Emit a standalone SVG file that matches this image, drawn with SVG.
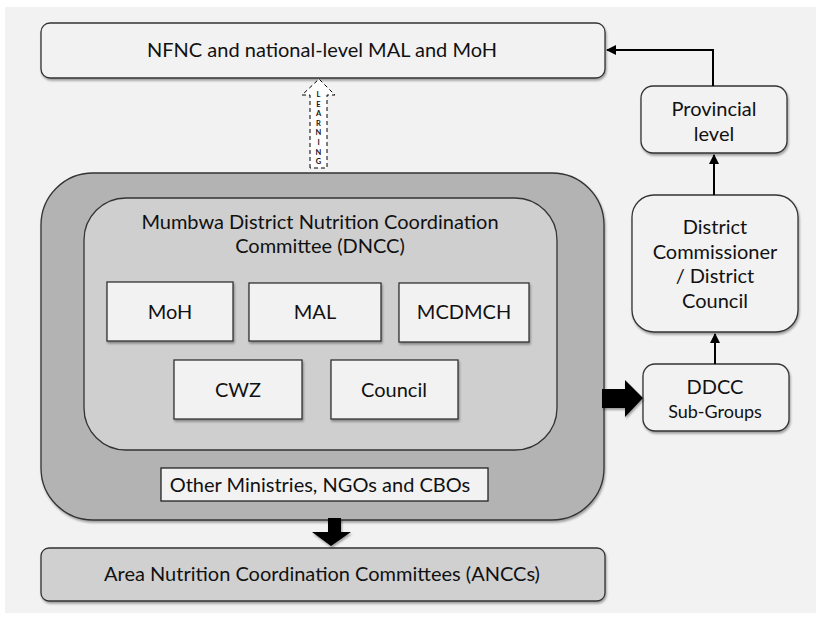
<svg xmlns="http://www.w3.org/2000/svg" width="822" height="618" viewBox="0 0 822 618">
<defs>
<filter id="sh" x="-10%" y="-10%" width="120%" height="130%">
<feDropShadow dx="1" dy="2" stdDeviation="1.2" flood-color="#000" flood-opacity="0.35"/>
</filter>
<marker id="ah" viewBox="0 0 10 10" refX="9" refY="5" markerWidth="5" markerHeight="5" orient="auto">
<path d="M0,0 L10,5 L0,10 z" fill="#000"/>
</marker>
<style>
text{font-family:Lato,"Open Sans",sans-serif;fill:#111;text-anchor:middle}
.box{fill:#f2f2f2;stroke:#333;stroke-width:1.3}
.t{font-size:20px}
.s{font-size:18px}
.ln{stroke:#000;stroke-width:2;fill:none}
.lt{font-size:7.5px;font-weight:bold}
</style>
</defs>
<rect x="0" y="0" width="822" height="618" fill="#ffffff"/>
<rect x="5" y="7" width="811" height="606" fill="#f2f2f2"/>

<g id="national">
<rect class="box" x="41" y="23" width="564" height="55" rx="9" filter="url(#sh)"/>
<text class="t" x="322" y="57">NFNC and national-level MAL and MoH</text>
</g>

<g id="provincial">
<rect class="box" x="641" y="86" width="146" height="67" rx="12" filter="url(#sh)"/>
<text class="t" x="714" y="116">Provincial</text>
<text class="t" x="714" y="141">level</text>
</g>

<g id="district">
<rect class="box" x="632" y="195" width="166" height="137" rx="22" filter="url(#sh)"/>
<text class="t" x="715" y="234">District</text>
<text class="t" x="715" y="259">Commissioner</text>
<text class="t" x="715" y="283">/ District</text>
<text class="t" x="715" y="308">Council</text>
</g>

<g id="ddcc">
<rect class="box" x="643" y="364" width="146" height="67" rx="12" filter="url(#sh)"/>
<text class="t" x="715" y="394">DDCC</text>
<text class="s" x="715" y="418">Sub-Groups</text>
</g>

<g id="mumbwa">
<rect x="41" y="173" width="563" height="347" rx="52" fill="#b3b3b3" stroke="#333" stroke-width="1.3" filter="url(#sh)"/>
<g id="dncc">
<rect x="84" y="198" width="473" height="252" rx="42" fill="#cfcfcf" stroke="#333" stroke-width="1.3"/>
<text class="t" x="320" y="229">Mumbwa District Nutrition Coordination</text>
<text class="t" x="320" y="253">Committee (DNCC)</text>
</g>
<g id="moh"><rect class="box" x="107" y="282" width="126" height="59" filter="url(#sh)"/><text class="t" x="170" y="319">MoH</text></g>
<g id="mal"><rect class="box" x="249" y="283" width="132" height="58" filter="url(#sh)"/><text class="t" x="315" y="319">MAL</text></g>
<g id="mcdmch"><rect class="box" x="399" y="283" width="130" height="59" filter="url(#sh)"/><text class="t" x="464" y="319">MCDMCH</text></g>
<g id="cwz"><rect class="box" x="174" y="360" width="128" height="59" filter="url(#sh)"/><text class="t" x="238" y="397">CWZ</text></g>
<g id="council"><rect class="box" x="331" y="360" width="127" height="59" filter="url(#sh)"/><text class="t" x="394" y="397">Council</text></g>
<g id="others"><rect x="161" y="468" width="327" height="33" fill="#f2f2f2" stroke="#222" stroke-width="1.3"/><text class="t" x="320" y="492">Other Ministries, NGOs and CBOs</text></g>
</g>

<g id="ancc">
<rect x="41" y="548" width="564" height="53" rx="8" fill="#d0d0d0" stroke="#333" stroke-width="1.3" filter="url(#sh)"/>
<text class="t" x="322" y="581">Area Nutrition Coordination Committees (ANCCs)</text>
</g>

<g id="connectors">
<polyline class="ln" points="713,86 713,50 607,50" marker-end="url(#ah)"/>
<line class="ln" x1="714" y1="195" x2="714" y2="155" marker-end="url(#ah)"/>
<line class="ln" x1="715" y1="364" x2="715" y2="334" marker-end="url(#ah)"/>
<path d="M602,389 H625 V380 L643,398 L625,417 V408 H602 z" fill="#000" filter="url(#sh)"/>
<path d="M328,518 H341 V532 H351 L331,546 L312,532 H328 z" fill="#000" filter="url(#sh)"/>
<g id="learning">
<path d="M310,168 V95 H302 L319,79 L335,95 H327 V168 z" fill="#fff" stroke="#000" stroke-width="1" stroke-dasharray="4,3"/>
<text class="lt" x="318.5" y="97">L</text>
<text class="lt" x="318.5" y="106.6">E</text>
<text class="lt" x="318.5" y="116.2">A</text>
<text class="lt" x="318.5" y="125.8">R</text>
<text class="lt" x="318.5" y="135.4">N</text>
<text class="lt" x="318.5" y="145">I</text>
<text class="lt" x="318.5" y="154.6">N</text>
<text class="lt" x="318.5" y="164.2">G</text>
</g>
</g>
</svg>
